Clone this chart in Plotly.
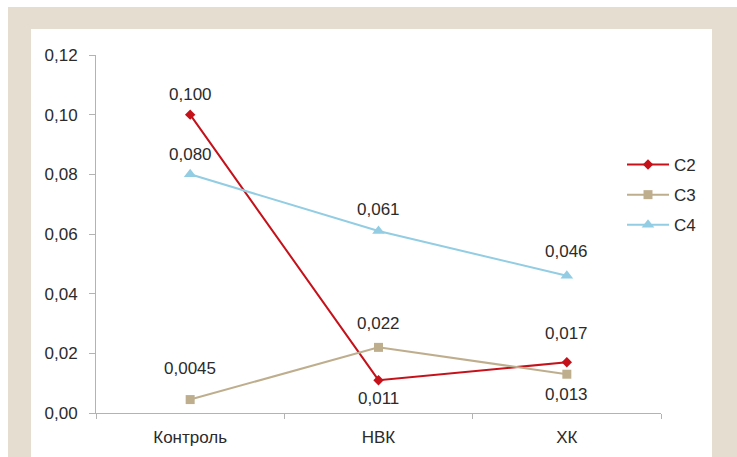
import plotly.graph_objects as go

# Categories and series values
categories = ["Контроль", "НВК", "ХК"]
series_names = ["C2", "C3", "C4"]
c2_values = [0.100, 0.011, 0.017]
c3_values = [0.0045, 0.022, 0.013]
c4_values = [0.080, 0.061, 0.046]
y_tick_values = [0.00, 0.02, 0.04, 0.06, 0.08, 0.10, 0.12]

# Styling per series
colors = ["#c5111a", "#bfae8e", "#92cde3"]
symbols = ["diamond", "square", "triangle-up"]
marker_sizes = [8, 9, 11]
# vertical pixel offsets of the value labels (positive = above)
label_shifts = [
    [20, -18, 29],
    [31, 24, -20],
    [20, 22, 24],
]

W, H = 737, 457
L, R, T, B = 96, 76, 55, 44
pw = W - L - R
ph = H - T - B

TEXT = "#2b2b2b"
FONT = "Liberation Sans, Arial, sans-serif"
FS = 17


def fmt(v):
    s = f"{v:.3f}" if round(v, 3) == v else f"{v:.4f}"
    return s.replace(".", ",")


fig = go.Figure()
all_values = [c2_values, c3_values, c4_values]
for i, (name, vals) in enumerate(zip(series_names, all_values)):
    fig.add_trace(go.Scatter(
        x=categories, y=vals, name=name, mode="lines+markers",
        line=dict(color=colors[i], width=2),
        marker=dict(symbol=symbols[i], size=marker_sizes[i], color=colors[i]),
        legendgroup=name,
    ))
    for j, v in enumerate(vals):
        fig.add_annotation(
            x=categories[j], y=v, text=fmt(v), showarrow=False,
            yshift=label_shifts[i][j], font=dict(size=FS, color=TEXT, family=FONT),
        )


def px_x(p):
    return (p - L) / pw


def px_y(p):
    return (H - B - p) / ph


# frame: beige border with white panel
fig.add_shape(type="rect", xref="paper", yref="paper",
              x0=px_x(-5), x1=px_x(W + 5), y0=px_y(H + 5), y1=px_y(-5),
              fillcolor="white", line_width=0, layer="below")
fig.add_shape(type="rect", xref="paper", yref="paper",
              x0=px_x(8), x1=px_x(W + 5), y0=px_y(H + 5), y1=px_y(7),
              fillcolor="#e6ddd1", line_width=0, layer="below")
fig.add_shape(type="rect", xref="paper", yref="paper",
              x0=px_x(31), x1=px_x(712), y0=px_y(H + 5), y1=px_y(29),
              fillcolor="white", line_width=0, layer="below")

fig.update_layout(
    width=W, height=H,
    margin=dict(l=L, r=R, t=T, b=B, pad=0, autoexpand=False),
    paper_bgcolor="white", plot_bgcolor="rgba(0,0,0,0)",
    separators=", ",
    font=dict(family=FONT, size=FS, color=TEXT),
    showlegend=True,
    legend=dict(x=px_x(622), y=px_y(147), xanchor="left", yanchor="top",
                bgcolor="rgba(0,0,0,0)", font=dict(size=FS, color=TEXT),
                tracegroupgap=5, traceorder="grouped", itemwidth=42),
    xaxis=dict(
        type="category", range=[-0.5, 2.5], showgrid=False, automargin=False,
        showline=True, linecolor="#b3b3b3", linewidth=1,
        ticks="outside", tickson="boundaries", ticklen=5, tickcolor="#b3b3b3",
        ticklabelstandoff=9,
        tickfont=dict(size=FS, color=TEXT, family=FONT), zeroline=False,
    ),
    yaxis=dict(
        range=[0, 0.12], tickvals=y_tick_values, tickformat=".2f",
        showgrid=False, showline=True, linecolor="#b3b3b3", linewidth=1,
        ticks="outside", ticklen=6, tickcolor="#b3b3b3", automargin=False,
        ticklabelstandoff=8,
        tickfont=dict(size=FS, color=TEXT, family=FONT), zeroline=False,
    ),
)

fig.write_html("out.html")
